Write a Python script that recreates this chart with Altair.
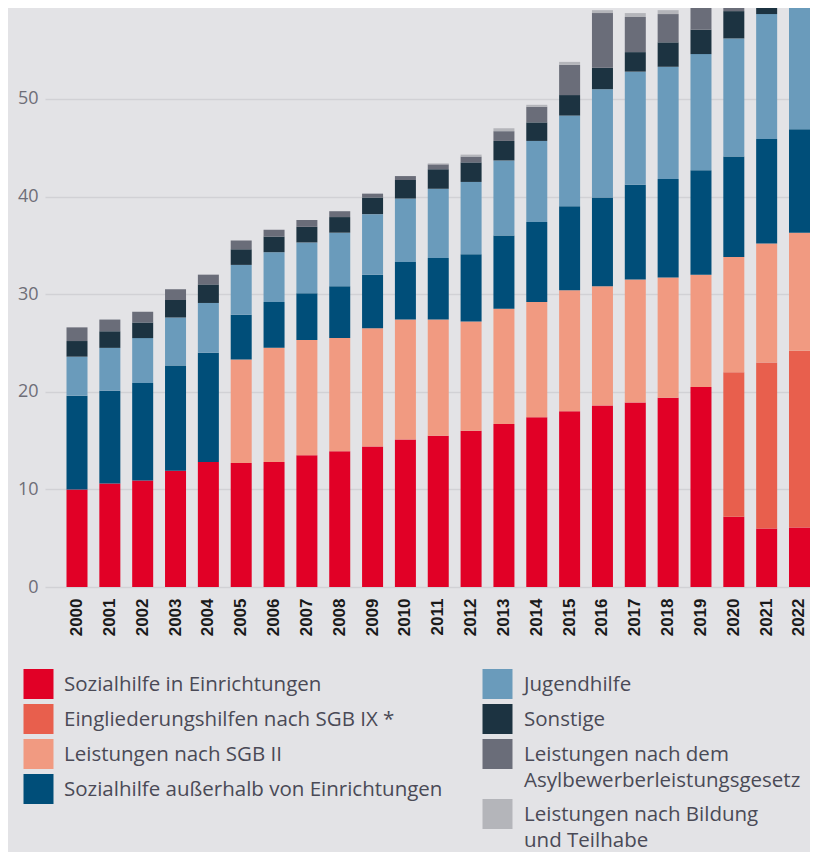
import altair as alt
import pandas as pd

years = [str(y) for y in range(2000, 2023)]

categories = [
    "Sozialhilfe in Einrichtungen",
    "Eingliederungshilfen nach SGB IX *",
    "Leistungen nach SGB II",
    "Sozialhilfe außerhalb von Einrichtungen",
    "Jugendhilfe",
    "Sonstige",
    "Leistungen nach dem Asylbewerberleistungsgesetz",
    "Leistungen nach Bildung und Teilhabe",
]

legend_lines = [
    ["Sozialhilfe in Einrichtungen"],
    ["Eingliederungshilfen nach SGB IX *"],
    ["Leistungen nach SGB II"],
    ["Sozialhilfe außerhalb von Einrichtungen"],
    ["Jugendhilfe"],
    ["Sonstige"],
    ["Leistungen nach dem", "Asylbewerberleistungsgesetz"],
    ["Leistungen nach Bildung", "und Teilhabe"],
]

colors = ["#e10026", "#e85f4d", "#f19a81", "#004e79",
          "#6a9bbb", "#1c3341", "#6a6d79", "#b4b5ba"]

soz_ein = [10.0, 10.6, 10.9, 11.9, 12.8, 12.7, 12.8, 13.5, 13.9, 14.4, 15.1, 15.5,
           16.0, 16.7, 17.4, 18.0, 18.6, 18.9, 19.4, 20.5, 7.2, 6.0, 6.1]
eingl = [0, 0, 0, 0, 0, 0, 0, 0, 0, 0, 0, 0,
         0, 0, 0, 0, 0, 0, 0, 0, 14.8, 17.0, 18.1]
sgb2 = [0, 0, 0, 0, 0, 10.6, 11.7, 11.8, 11.6, 12.1, 12.3, 11.9,
        11.2, 11.8, 11.8, 12.4, 12.2, 12.6, 12.3, 11.5, 11.8, 12.2, 12.1]
soz_aus = [9.6, 9.5, 10.0, 10.8, 11.2, 4.6, 4.7, 4.8, 5.3, 5.5, 5.9, 6.3,
           6.9, 7.5, 8.2, 8.6, 9.1, 9.7, 10.1, 10.7, 10.3, 10.7, 10.6]
jugend = [4.0, 4.4, 4.6, 4.9, 5.1, 5.1, 5.1, 5.2, 5.5, 6.2, 6.5, 7.1,
          7.4, 7.7, 8.3, 9.3, 11.1, 11.6, 11.5, 11.9, 12.1, 12.8, 14.0]
sonst = [1.6, 1.7, 1.6, 1.8, 1.9, 1.6, 1.6, 1.6, 1.6, 1.7, 1.9, 2.0,
         2.0, 2.0, 1.9, 2.1, 2.2, 2.0, 2.5, 2.5, 2.8, 2.8, 2.9]
asyl = [1.4, 1.2, 1.1, 1.1, 1.0, 0.9, 0.7, 0.7, 0.6, 0.4, 0.4, 0.5,
        0.6, 1.0, 1.6, 3.1, 5.6, 3.6, 2.9, 2.6, 2.0, 2.4, 2.6]
but = [0, 0, 0, 0, 0, 0, 0, 0, 0, 0, 0, 0.1,
       0.2, 0.3, 0.2, 0.3, 0.3, 0.4, 0.4, 0.4, 0.4, 0.4, 0.4]

series = [soz_ein, eingl, sgb2, soz_aus, jugend, sonst, asyl, but]

rows = []
for ci, (cat, vals) in enumerate(zip(categories, series)):
    for yr, v in zip(years, vals):
        rows.append({"Jahr": yr, "Kategorie": cat, "Wert": v, "Reihenfolge": ci})
df = pd.DataFrame(rows)

BG = "#e3e3e6"
color_scale = alt.Scale(domain=categories, range=colors)

W = 765          # plot width (page x 45 .. 810)
H = 843          # whole view height (page y 8 .. 851)
PLOT_H = 579     # height of the bar region (page y 8 .. 587)
LINE_H = 26

bars = alt.Chart(df).mark_bar(clip=True).encode(
    x=alt.X(
        "Jahr:O", sort=years,
        scale=alt.Scale(paddingInner=0.3605, paddingOuter=0.3274, align=1),
        axis=alt.Axis(
            title=None, labelAngle=270, labelAlign="right", labelBaseline="middle",
            labelFont="Liberation Sans", labelFontWeight="bold", labelFontSize=17,
            labelColor="#1a1a1a", labelPadding=11, ticks=False, domain=False,
            offset=-(H - PLOT_H),
        ),
    ),
    y=alt.Y(
        "Wert:Q", stack="zero",
        scale=alt.Scale(domain=[0, 59.32], range=[PLOT_H, 0], nice=False),
        axis=alt.Axis(
            title=None, values=[0, 10, 20, 30, 40, 50], labelFont="Open Sans",
            labelFontSize=18, labelColor="#6e6e78", labelPadding=7,
            ticks=False, domain=False, gridColor="#d1d1d5", gridWidth=1.5,
            minExtent=37, maxExtent=37,
        ),
    ),
    color=alt.Color("Kategorie:N", scale=color_scale, legend=None),
    order=alt.Order("Reihenfolge:Q", sort="ascending"),
)

# manual two-column legend, laid out in page coordinates
sw_rows, txt_rows = [], []
col_sw_x = [38.5, 497.5]
col_txt_x = [64, 524]
for col in range(2):
    yy = 684
    for i in range(4):
        ci = col * 4 + i
        n = len(legend_lines[ci])
        sw_rows.append({"Kategorie": categories[ci], "lx": col_sw_x[col], "ly": yy})
        txt_rows.append({"t": legend_lines[ci], "lx": col_txt_x[col], "ly": yy + 1})
        yy += 35 + (LINE_H - 1) * (n - 1)

xs = alt.Scale(domain=[45, 45 + W], range=[0, W])
ys = alt.Scale(domain=[8, 8 + H], range=[0, H])

swatches = alt.Chart(pd.DataFrame(sw_rows)).mark_square(size=900, opacity=1).encode(
    x=alt.X("lx:Q", scale=xs, axis=None),
    y=alt.Y("ly:Q", scale=ys, axis=None),
    color=alt.Color("Kategorie:N", scale=color_scale, legend=None),
)
texts = alt.Chart(pd.DataFrame(txt_rows)).mark_text(
    align="left", baseline="middle", font="Open Sans", fontSize=20.5,
    lineHeight=LINE_H, color="#4a4a56"
).encode(
    x=alt.X("lx:Q", scale=xs, axis=None),
    y=alt.Y("ly:Q", scale=ys, axis=None),
    text="t",
)

chart = alt.layer(bars, swatches, texts).resolve_scale(
    x="independent", y="independent"
).properties(width=W, height=H).configure(
    background=BG, padding=0
).configure_view(stroke=None)

chart.save("out.html", embed_options={"renderer": "svg", "actions": False})
